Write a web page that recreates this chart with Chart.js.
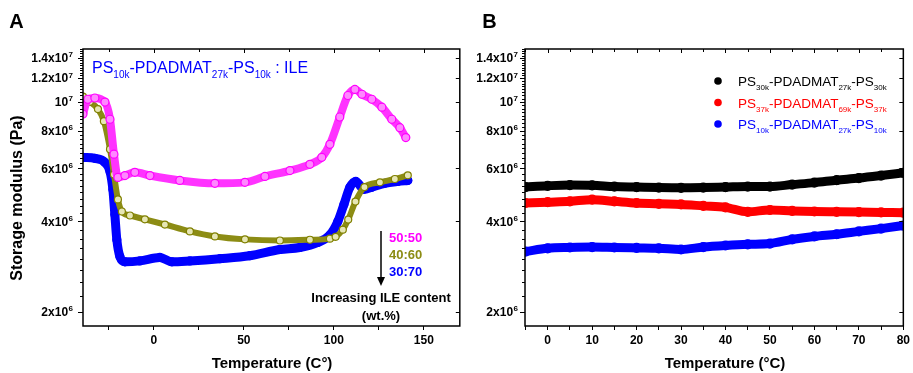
<!DOCTYPE html>
<html>
<head>
<meta charset="utf-8">
<script src="https://cdn.jsdelivr.net/npm/chart.js@4.4.1/dist/chart.umd.min.js"></script>
<style>
  body { margin: 0; background: #fff; }
  .panel { position: absolute; top: 0; }
</style>
</head>
<body>
<div class="panel" style="left:0;width:465px;height:373px"><canvas id="chartA" width="465" height="373"></canvas></div>
<div class="panel" style="left:463px;width:450px;height:373px"><canvas id="chartB" width="450" height="373"></canvas></div>
<script>
// Panel A: storage modulus vs temperature for three polymer:ILE ratios
const tempA50 = [-39.4, -36.7, -32.8, -27.2, -24.4, -22.2, -20, -16.1, -10.6, -2.2, 14.4, 33.9, 50.6, 61.7, 75.6, 86.7, 93.3, 97.8, 103.3, 107.8, 111.7, 115.6, 121.1, 126.7, 132.2, 136.7, 140];
const modA50 = [9.1e6, 1.02e7, 1.03e7, 9.98e6, 8.75e6, 6.69e6, 5.6e6, 5.68e6, 5.82e6, 5.68e6, 5.47e6, 5.35e6, 5.39e6, 5.64e6, 5.9e6, 6.19e6, 6.53e6, 7.22e6, 8.9e6, 1.05e7, 1.1e7, 1.06e7, 1.02e7, 9.6e6, 8.75e6, 8.2e6, 7.6e6];

const tempA40 = [-39.4, -35.6, -31.1, -27.8, -24.4, -22.2, -20, -17.8, -13.3, -5, 6.1, 20, 33.9, 50.6, 70, 86.7, 97.8, 101, 105, 108, 112, 117, 125.6, 133.9, 141.1];
const modA40 = [1.04e7, 1.0e7, 9.46e6, 8.62e6, 6.95e6, 5.73e6, 4.73e6, 4.31e6, 4.18e6, 4.06e6, 3.9e6, 3.7e6, 3.56e6, 3.48e6, 3.45e6, 3.47e6, 3.5e6, 3.55e6, 3.75e6, 4.05e6, 4.65e6, 5.2e6, 5.39e6, 5.53e6, 5.69e6];

const tempA30 = [-39.4, -32.8, -27.2, -24.4, -22.8, -21.7, -20.6, -18.9, -16.1, -7.8, 3.3, 10, 20, 36.7, 53.3, 70, 81.1, 91.1, 97.8, 102.2, 105.6, 108.9, 112.2, 116.7, 121.1, 128.3, 135.6, 141.1];
const modA30 = [6.53e6, 6.48e6, 6.28e6, 5.86e6, 5.1e6, 4.21e6, 3.47e6, 3.05e6, 2.93e6, 2.95e6, 3.03e6, 2.93e6, 2.95e6, 3.0e6, 3.07e6, 3.22e6, 3.27e6, 3.4e6, 3.6e6, 3.99e6, 4.55e6, 5.19e6, 5.43e6, 5.11e6, 5.19e6, 5.35e6, 5.43e6, 5.47e6];

// Panel B: three triblock copolymers
const tempB = [-5, 0, 5, 10, 15, 20, 25, 30, 35, 40, 45, 50, 55, 60, 65, 70, 75, 80];
const modB30k = [5.2e6, 5.25e6, 5.28e6, 5.27e6, 5.22e6, 5.2e6, 5.18e6, 5.17e6, 5.18e6, 5.2e6, 5.22e6, 5.22e6, 5.3e6, 5.38e6, 5.48e6, 5.57e6, 5.68e6, 5.8e6];
const modB37k = [4.6e6, 4.63e6, 4.66e6, 4.72e6, 4.66e6, 4.6e6, 4.57e6, 4.55e6, 4.5e6, 4.45e6, 4.3e6, 4.36e6, 4.33e6, 4.31e6, 4.3e6, 4.29e6, 4.28e6, 4.27e6];
const modB10k = [3.17e6, 3.25e6, 3.27e6, 3.28e6, 3.27e6, 3.26e6, 3.25e6, 3.22e6, 3.28e6, 3.32e6, 3.35e6, 3.37e6, 3.48e6, 3.56e6, 3.62e6, 3.7e6, 3.78e6, 3.87e6];

// y axis tick labels (mantissa + superscript exponent)
const yTickVals = [2e6, 4e6, 6e6, 8e6, 1e7, 1.2e7, 1.4e7];
const yTickMant = ['2x10', '4x10', '6x10', '8x10', '10', '1.2x10', '1.4x10'];
const yTickExp = ['6', '6', '6', '6', '7', '7', '7'];

const FONT = '"Liberation Sans", Arial, sans-serif';
const Y_MIN = 1.79e6, Y_MAX = 1.5e7;

const minorY = [];
for (let v = 1.75e6; v <= Y_MAX; v += 2.5e5) minorY.push(v);

const toXY = (xs, ys) => xs.map((x, i) => ({ x: x, y: ys[i] }));

function drawRich(ctx, parts, x, y, size, color) {
    let cx = x;
    ctx.fillStyle = color;
    ctx.textAlign = 'left';
    ctx.textBaseline = 'alphabetic';
    parts.forEach((p, i) => {
        const sub = i % 2 === 1;
        ctx.font = (sub ? Math.round(size * 0.62) : size) + 'px ' + FONT;
        ctx.fillText(p, cx, sub ? y + size * 0.3 : y);
        cx += ctx.measureText(p).width;
    });
}

// frame, log ticks, y labels, x title, panel letter
const framePlugin = {
    id: 'frame',
    afterDraw(chart, args, o) {
        const { ctx, chartArea: a, scales: { x, y } } = chart;
        ctx.save();
        ctx.strokeStyle = '#000';
        ctx.lineWidth = 1.5;
        ctx.strokeRect(a.left, a.top, a.right - a.left, a.bottom - a.top);

        ctx.lineWidth = 1;
        ctx.beginPath();
        minorY.forEach(v => {
            const py = Math.round(y.getPixelForValue(v)) + 0.5;
            if (py < a.top || py > a.bottom) return;
            ctx.moveTo(a.left, py); ctx.lineTo(a.left - 3, py);
        });
        yTickVals.forEach(v => {
            const py = Math.round(y.getPixelForValue(v)) + 0.5;
            ctx.moveTo(a.left, py); ctx.lineTo(a.left - 5, py);
            ctx.moveTo(a.right, py); ctx.lineTo(a.right - 4, py);
        });
        x.ticks.forEach(t => {
            const px = Math.round(x.getPixelForValue(t.value)) + 0.5;
            ctx.moveTo(px, a.top); ctx.lineTo(px, a.top + (t.label ? 4 : 3));
        });
        ctx.stroke();

        ctx.fillStyle = '#000';
        yTickVals.forEach((v, i) => {
            const py = y.getPixelForValue(v);
            const right = a.left - o.gap;
            ctx.font = 'bold 8px ' + FONT;
            const ws = ctx.measureText(yTickExp[i]).width;
            ctx.textAlign = 'left';
            ctx.textBaseline = 'alphabetic';
            ctx.fillText(yTickExp[i], right - ws, py - 0.5);
            ctx.font = 'bold 12px ' + FONT;
            ctx.textAlign = 'right';
            ctx.textBaseline = 'middle';
            ctx.fillText(yTickMant[i], right - ws - 0.5, py + 1);
        });

        ctx.font = 'bold 15px ' + FONT;
        ctx.textAlign = 'center';
        ctx.textBaseline = 'middle';
        ctx.fillText(o.xTitle, o.xTitleX, 364);

        ctx.font = 'bold 20px ' + FONT;
        ctx.fillText(o.letter, o.letterX, 22);
        ctx.restore();
    }
};

const notesA = {
    id: 'notesA',
    afterDraw(chart) {
        const ctx = chart.ctx;
        ctx.save();
        drawRich(ctx, ['PS', '10k', '-PDADMAT', '27k', '-PS', '10k', ' : ILE'], 92, 73, 16, '#0000ff');

        // y axis title
        ctx.translate(18, 198);
        ctx.rotate(-Math.PI / 2);
        ctx.font = 'bold 16px ' + FONT;
        ctx.fillStyle = '#000';
        ctx.textAlign = 'center';
        ctx.textBaseline = 'middle';
        ctx.fillText('Storage modulus (Pa)', 0, 0);
        ctx.setTransform(1, 0, 0, 1, 0, 0);

        // arrow
        ctx.strokeStyle = '#000';
        ctx.lineWidth = 1.5;
        ctx.beginPath();
        ctx.moveTo(381, 231); ctx.lineTo(381, 279);
        ctx.stroke();
        ctx.beginPath();
        ctx.moveTo(377, 277); ctx.lineTo(385, 277); ctx.lineTo(381, 286);
        ctx.closePath();
        ctx.fill();

        ctx.font = 'bold 13px ' + FONT;
        ctx.textAlign = 'left';
        ctx.textBaseline = 'middle';
        ctx.fillStyle = '#ff00ff'; ctx.fillText('50:50', 389, 238);
        ctx.fillStyle = '#8c8c14'; ctx.fillText('40:60', 389, 255);
        ctx.fillStyle = '#0000ff'; ctx.fillText('30:70', 389, 272);

        ctx.fillStyle = '#000';
        ctx.textAlign = 'center';
        ctx.fillText('Increasing ILE content', 381, 298);
        ctx.fillText('(wt.%)', 381, 316);
        ctx.restore();
    }
};

const legendB = [
    { color: '#000000', parts: ['PS', '30k', '-PDADMAT', '27k', '-PS', '30k'] },
    { color: '#ff0000', parts: ['PS', '37k', '-PDADMAT', '69k', '-PS', '37k'] },
    { color: '#0000ff', parts: ['PS', '10k', '-PDADMAT', '27k', '-PS', '10k'] }
];

const notesB = {
    id: 'notesB',
    afterDraw(chart) {
        const ctx = chart.ctx;
        ctx.save();
        legendB.forEach((item, i) => {
            const cy = 81 + i * 21.5;
            ctx.fillStyle = item.color;
            ctx.beginPath();
            ctx.arc(718 - 463, cy, 3.8, 0, Math.PI * 2);
            ctx.fill();
            drawRich(ctx, item.parts, 738 - 463, cy + 5, 13.5, item.color);
        });
        ctx.restore();
    }
};

function xScale(min, max, step, major) {
    return {
        type: 'linear',
        min: min,
        max: max,
        afterFit: s => { s.height = 47; },
        border: { display: false },
        grid: { display: true, drawOnChartArea: false, drawTicks: true, tickLength: 4, tickColor: '#000', tickWidth: 1 },
        ticks: {
            stepSize: step,
            includeBounds: false,
            autoSkip: false,
            maxRotation: 0,
            padding: 3,
            color: '#000',
            font: { family: FONT, size: 12, weight: 'bold' },
            callback: v => (Math.abs(v % major) < 1e-6 ? String(v) : '')
        }
    };
}

function yScale(width) {
    return {
        type: 'logarithmic',
        min: Y_MIN,
        max: Y_MAX,
        afterFit: s => { s.width = width; },
        afterBuildTicks: s => { s.ticks = yTickVals.map(v => ({ value: v })); },
        border: { display: false },
        grid: { display: false },
        ticks: { display: false }
    };
}

function bandSet(data, line, width, radius, pBorder, pFill) {
    return {
        data: data,
        borderColor: line,
        borderWidth: width,
        cubicInterpolationMode: 'monotone',
        pointRadius: radius,
        pointBorderColor: pBorder,
        pointBackgroundColor: pFill,
        pointBorderWidth: 1.2,
        borderCapStyle: 'round',
        borderJoinStyle: 'round'
    };
}

new Chart(document.getElementById('chartA'), {
    type: 'line',
    data: {
        datasets: [
            bandSet(toXY(tempA50, modA50), '#ff33ff', 8, 4, '#ff00ff', '#ff88ff'),
            bandSet(toXY(tempA40, modA40), '#8c8c14', 6, 3.5, '#808000', '#e6e6b4'),
            bandSet(toXY(tempA30, modA30), '#0000ff', 9, 4, '#0000ff', '#0000ff')
        ]
    },
    options: {
        responsive: false,
        animation: false,
        devicePixelRatio: 1,
        layout: { padding: { top: 49, right: 4, left: 0, bottom: 0 } },
        plugins: {
            legend: { display: false },
            tooltip: { enabled: false },
            frame: { gap: 10, xTitle: 'Temperature (C°)', xTitleX: 272, letter: 'A', letterX: 16.5 }
        },
        scales: {
            x: xScale(-39.4, 170, 25, 50),
            y: yScale(83)
        }
    },
    plugins: [framePlugin, notesA]
});

new Chart(document.getElementById('chartB'), {
    type: 'line',
    data: {
        datasets: [
            bandSet(toXY(tempB, modB30k), '#000000', 9, 4.5, '#000000', '#000000'),
            bandSet(toXY(tempB, modB37k), '#ff0000', 9, 4.5, '#ff0000', '#ff0000'),
            bandSet(toXY(tempB, modB10k), '#0000ff', 9, 4.5, '#0000ff', '#0000ff')
        ]
    },
    options: {
        responsive: false,
        animation: false,
        devicePixelRatio: 1,
        layout: { padding: { top: 49, right: 9, left: 0, bottom: 0 } },
        plugins: {
            legend: { display: false },
            tooltip: { enabled: false },
            frame: { gap: 7, xTitle: 'Temperature (°C)', xTitleX: 725 - 463, letter: 'B', letterX: 489.5 - 463 }
        },
        scales: {
            x: xScale(-5.1, 80, 5, 10),
            y: yScale(62)
        }
    },
    plugins: [framePlugin, notesB]
});
</script>
</body>
</html>
